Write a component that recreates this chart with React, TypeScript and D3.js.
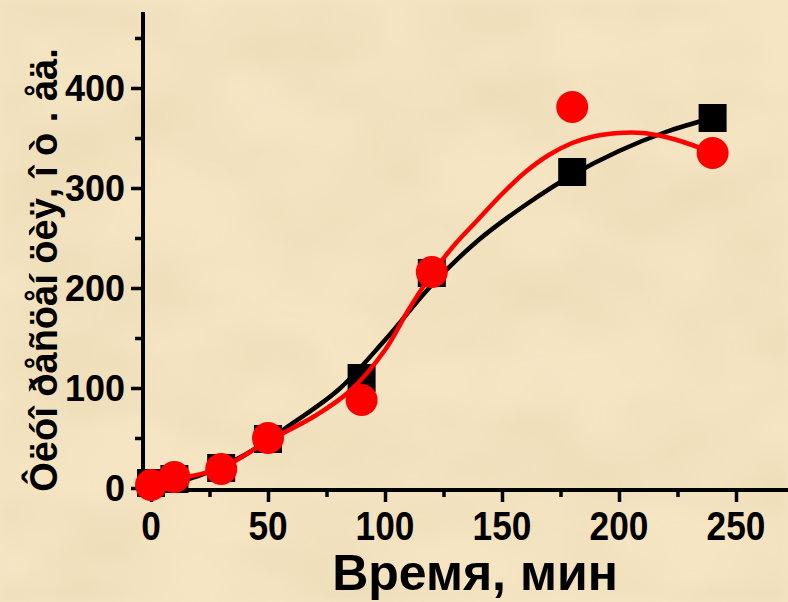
import React, { useEffect, useRef } from "react";
import * as d3 from "d3";

// measured points (time in min, fluorescence)
const times = [0, 10, 30, 50, 90, 120, 180, 240];
const blackValues = [5, 9, 20, 49, 110, 215, 316, 370];
const redValues = [3, 11, 19, 50, 88, 216, 381, 335];

// fitted curves
const blackFitX = [0, 20, 40, 60, 80, 100, 120, 140, 160, 180, 200, 220, 240];
const blackFitY = [1, 12, 33, 64, 98, 148, 203, 248, 283, 313, 337, 356, 370];
const redFitX = [0, 10, 30, 50, 70, 85, 100, 110, 120, 130, 140, 150, 160, 170, 180, 190, 200, 210, 220, 230, 240];
const redFitY = [1, 8, 20, 47, 72, 97, 138, 178, 214, 244, 269, 294, 316, 333, 345, 352, 355, 355, 351, 344, 335];

const xMajor = [0, 50, 100, 150, 200, 250];
const xMinor = [25, 75, 125, 175, 225];
const yMajor = [0, 100, 200, 300, 400];
const yMinor = [50, 150, 250, 350, 450];

const W = 788;
const H = 602;

const App = () => {
  const svgRef = useRef<SVGSVGElement>(null);

  useEffect(() => {
    const root = d3.select(svgRef.current);
    root.selectAll("*").remove();

    const defs = root.append("defs");
    const f = defs.append("filter").attr("id", "paper").attr("x", 0).attr("y", 0).attr("width", 1).attr("height", 1);
    f.append("feTurbulence")
      .attr("type", "fractalNoise")
      .attr("baseFrequency", "0.007 0.012")
      .attr("numOctaves", 3)
      .attr("seed", 7);
    f.append("feColorMatrix")
      .attr("type", "matrix")
      .attr("values", "0 0 0 0 0.78  0 0 0 0 0.64  0 0 0 0 0.4  0.9 0 0 0 -0.3");
    f.append("feGaussianBlur").attr("stdDeviation", 5);

    root.append("rect").attr("width", W).attr("height", H).attr("fill", "#f5e5c3");
    root.append("rect").attr("width", W).attr("height", H).attr("filter", "url(#paper)");

    const x = d3.scaleLinear().domain([0, 250]).range([151, 736]);
    const y = d3.scaleLinear().domain([0, 400]).range([488, 88]);
    const font = "'Liberation Sans', Arial, sans-serif";

    // axes lines
    const axisY = 490;
    const axisX = 143;
    root.append("line").attr("x1", axisX).attr("x2", W).attr("y1", axisY).attr("y2", axisY)
      .attr("stroke", "#000").attr("stroke-width", 4);
    root.append("line").attr("x1", axisX).attr("x2", axisX).attr("y1", 12).attr("y2", axisY + 2)
      .attr("stroke", "#000").attr("stroke-width", 4);

    const yAxis = root.append("g").attr("transform", `translate(${axisX - 2},0)`)
      .call(d3.axisLeft(y).tickValues(yMajor).tickSize(10).tickPadding(6).tickFormat(d3.format("d")));
    yAxis.select(".domain").remove();
    yAxis.selectAll("line").attr("stroke", "#000").attr("stroke-width", 3.5);
    yAxis.selectAll("text").attr("font-family", font).attr("font-weight", "bold")
      .attr("font-size", 36).attr("fill", "#000").attr("dy", "0.36em");

    const yMin = root.append("g").attr("transform", `translate(${axisX - 2},0)`)
      .call(d3.axisLeft(y).tickValues(yMinor).tickSize(6).tickFormat(() => ""));
    yMin.select(".domain").remove();
    yMin.selectAll("line").attr("stroke", "#000").attr("stroke-width", 3.5);

    const xAxis = root.append("g").attr("transform", `translate(0,${axisY + 2})`)
      .call(d3.axisBottom(x).tickValues(xMajor).tickSize(10).tickFormat(() => ""));
    xAxis.select(".domain").remove();
    xAxis.selectAll("line").attr("stroke", "#000").attr("stroke-width", 3.5);

    // condensed x tick labels
    root.append("g").selectAll("text")
      .data(xMajor)
      .enter()
      .append("text")
      .attr("transform", (d) => `translate(${x(d)},540) scale(0.86,1)`)
      .attr("text-anchor", "middle")
      .attr("font-family", font).attr("font-weight", "bold").attr("font-size", 41)
      .text((d) => d);

    const xMin = root.append("g").attr("transform", `translate(0,${axisY + 2})`)
      .call(d3.axisBottom(x).tickValues(xMinor).tickSize(5).tickFormat(() => ""));
    xMin.select(".domain").remove();
    xMin.selectAll("line").attr("stroke", "#000").attr("stroke-width", 3.5);

    // axis titles
    root.append("text")
      .attr("x", 475).attr("y", 590)
      .attr("text-anchor", "middle")
      .attr("font-family", font).attr("font-weight", "bold").attr("font-size", 50)
      .text("Время, мин");

    root.append("text")
      .attr("transform", "translate(57,270) rotate(-90)")
      .attr("text-anchor", "middle")
      .attr("font-family", font).attr("font-weight", "bold").attr("font-size", 38)
      .text("Ôëóî ðåñöåí öèÿ, î ò . åä.");

    const line = d3.line<[number, number]>()
      .x((d) => x(d[0]))
      .y((d) => y(d[1]))
      .curve(d3.curveCatmullRom.alpha(0.5));

    const plot = root.append("g");

    plot.append("path")
      .attr("d", line(blackFitX.map((v, i) => [v, blackFitY[i]] as [number, number])))
      .attr("fill", "none").attr("stroke", "#000").attr("stroke-width", 4.5);

    const sq = 28;
    plot.selectAll("rect.sq")
      .data(times.map((t, i) => [t, blackValues[i]]))
      .enter()
      .append("rect")
      .attr("class", "sq")
      .attr("x", (d) => x(d[0]) - sq / 2)
      .attr("y", (d) => y(d[1]) - sq / 2)
      .attr("width", sq).attr("height", sq)
      .attr("fill", "#000");

    plot.append("path")
      .attr("d", line(redFitX.map((v, i) => [v, redFitY[i]] as [number, number])))
      .attr("fill", "none").attr("stroke", "#ff0000").attr("stroke-width", 4.5);

    plot.selectAll("circle")
      .data(times.map((t, i) => [t, redValues[i]]))
      .enter()
      .append("circle")
      .attr("cx", (d) => x(d[0]))
      .attr("cy", (d) => y(d[1]))
      .attr("r", 16)
      .attr("fill", "#ff0000");
  }, []);

  return (
    <svg
      ref={svgRef}
      width={W}
      height={H}
      style={{ position: "absolute", left: 0, top: 0 }}
    />
  );
};

export default App;
